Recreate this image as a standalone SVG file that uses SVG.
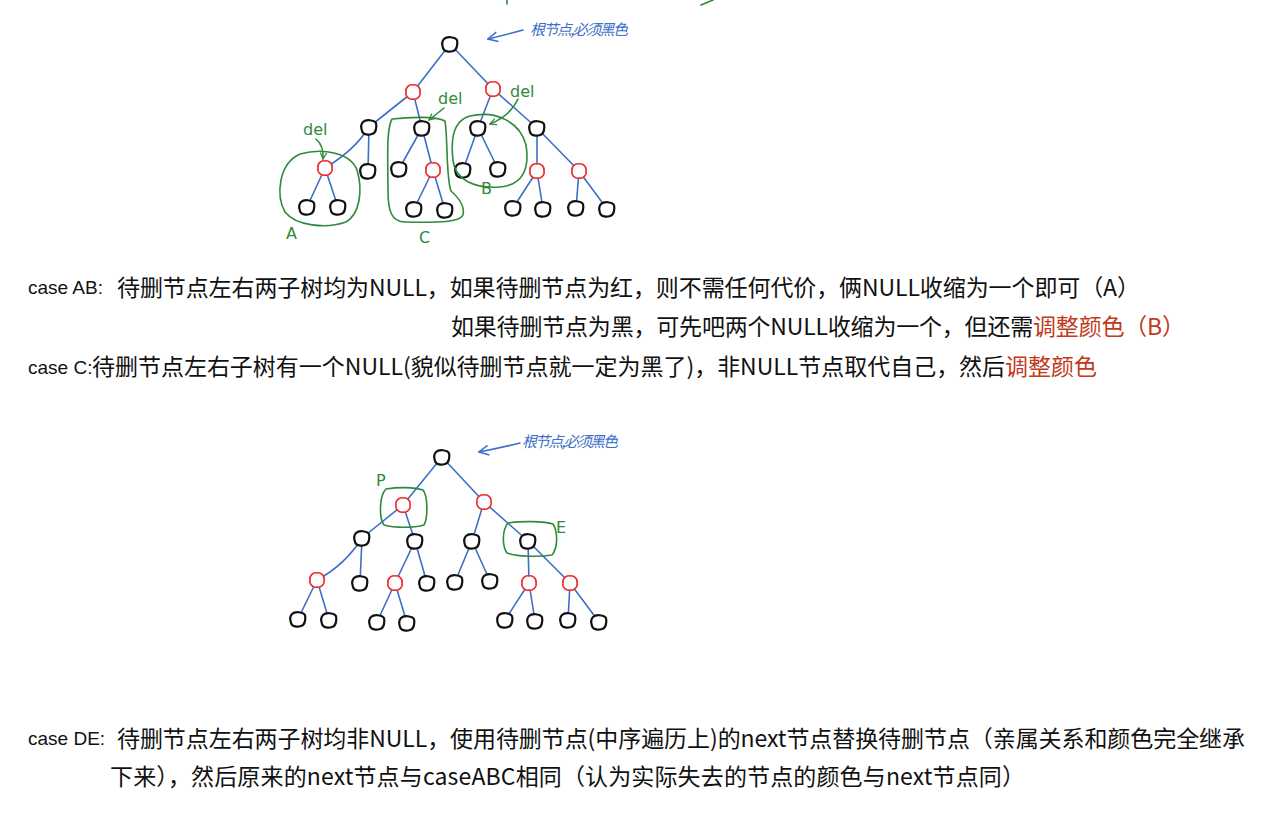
<svg xmlns="http://www.w3.org/2000/svg" width="1268" height="828" viewBox="0 0 1268 828">
<style>
.edge{stroke:#3d6fc7;stroke-width:1.6;fill:none;stroke-linecap:round}
.bn{fill:#fff;stroke:#111;stroke-width:2.2;stroke-linejoin:round}
.rn{fill:#fff;stroke:#ee2a2a;stroke-width:1.6}
.grn{fill:none;stroke:#2f8a3a;stroke-width:1.6;stroke-linecap:round;stroke-linejoin:round}
.gt{fill:#2f8a3a;font-family:"DejaVu Sans",sans-serif;font-size:16px}
.bt{fill:#3d6fc7;font-family:"Noto Sans CJK SC",sans-serif;font-size:15px;font-style:italic}
.blu{fill:none;stroke:#3d6fc7;stroke-width:1.6;stroke-linecap:round}
.lat{font-family:"Liberation Sans",sans-serif;font-size:19px;fill:#111}
.cjk{font-family:"Noto Sans CJK SC",sans-serif;font-size:23px;fill:#111}
.red{fill:#c03a1c}
</style>
<defs>
<path id="b" d="M-6,-5 C-3,-8 5,-7 7,-4 C8,0 7,6 3,7 C0,8 -6,8 -7,4 C-8,1 -8,-3 -6,-5 Z"/>
<path id="r" d="M0,-7 C4,-8 8,-4 7,0 C8,4 4,8 0,7 C-4,8 -8,4 -7,0 C-8,-4 -4,-8 0,-7 Z"/>
<marker id="ga" viewBox="0 0 10 10" refX="9" refY="5" markerWidth="8" markerHeight="8" orient="auto" markerUnits="userSpaceOnUse"><path d="M1,1 L9,5 L1,9" fill="none" stroke="#2f8a3a" stroke-width="1.5"/></marker>
<marker id="ba" viewBox="0 0 10 10" refX="9" refY="5" markerWidth="12" markerHeight="12" orient="auto" markerUnits="userSpaceOnUse"><path d="M1,1 L9,5 L1,9" fill="none" stroke="#3d6fc7" stroke-width="1.3"/></marker>
</defs>

<g id="connectors">
<!-- tree 1 -->
<path class="edge" d="M450,44 L413,92 M450,44 L493,89"/>
<path class="edge" d="M413,92 L369,127 M413,92 L422,128 M493,89 L478,128 M493,89 L537,128"/>
<path class="edge" d="M369,127 Q355,150 325,168 M369,127 L368,171 M422,128 L399,169 M422,128 L433,170 M478,128 L463,170 M478,128 L498,169 M537,128 L537,171 M537,128 L579,171"/>
<path class="edge" d="M325,168 L307,207 M325,168 L338,207 M433,170 L414,209 M433,170 L445,210 M537,171 L513,208 M537,171 L543,209 M579,171 L576,208 M579,171 L607,209"/>
<!-- tree 2 -->
<path class="edge" d="M442,457 L403,505 M442,457 L484,502"/>
<path class="edge" d="M403,505 L362,538 M403,505 L415,541 M484,502 L472,541 M484,502 L528,541"/>
<path class="edge" d="M362,538 Q345,565 317,580 M362,538 L360,583 M415,541 L395,583 M415,541 L427,583 M472,541 L455,582 M472,541 L490,581 M528,541 L529,583 M528,541 L570,583"/>
<path class="edge" d="M317,580 L298,619 M317,580 L329,620 M395,583 L377,622 M395,583 L407,623 M529,583 L505,620 M529,583 L535,621 M570,583 L568,620 M570,583 L599,622"/>
</g>

<g id="tree1-nodes">
<g id="t1-root"><use href="#b" class="bn" x="450" y="44"/></g>
<g id="t1-r1"><use href="#r" class="rn" x="413" y="92"/></g>
<g id="t1-r2"><use href="#r" class="rn" x="493" y="89"/></g>
<g id="t1-b1"><use href="#b" class="bn" x="369" y="127"/></g>
<g id="t1-b2"><use href="#b" class="bn" x="422" y="128"/></g>
<g id="t1-b3"><use href="#b" class="bn" x="478" y="128"/></g>
<g id="t1-b4"><use href="#b" class="bn" x="537" y="128"/></g>
<g id="t1-r3"><use href="#r" class="rn" x="325" y="168"/></g>
<g id="t1-b5"><use href="#b" class="bn" x="368" y="171"/></g>
<g id="t1-b6"><use href="#b" class="bn" x="399" y="169"/></g>
<g id="t1-r4"><use href="#r" class="rn" x="433" y="170"/></g>
<g id="t1-b7"><use href="#b" class="bn" x="463" y="170"/></g>
<g id="t1-b8"><use href="#b" class="bn" x="498" y="169"/></g>
<g id="t1-r5"><use href="#r" class="rn" x="537" y="171"/></g>
<g id="t1-r6"><use href="#r" class="rn" x="579" y="171"/></g>
<g id="t1-l1"><use href="#b" class="bn" x="307" y="207"/></g>
<g id="t1-l2"><use href="#b" class="bn" x="338" y="207"/></g>
<g id="t1-l3"><use href="#b" class="bn" x="414" y="209"/></g>
<g id="t1-l4"><use href="#b" class="bn" x="445" y="210"/></g>
<g id="t1-l5"><use href="#b" class="bn" x="513" y="208"/></g>
<g id="t1-l6"><use href="#b" class="bn" x="543" y="209"/></g>
<g id="t1-l7"><use href="#b" class="bn" x="576" y="208"/></g>
<g id="t1-l8"><use href="#b" class="bn" x="607" y="209"/></g>
</g>

<g id="tree2-nodes">
<g id="t2-root"><use href="#b" class="bn" x="442" y="457"/></g>
<g id="t2-r1"><use href="#r" class="rn" x="403" y="505"/></g>
<g id="t2-r2"><use href="#r" class="rn" x="484" y="502"/></g>
<g id="t2-b1"><use href="#b" class="bn" x="362" y="538"/></g>
<g id="t2-b2"><use href="#b" class="bn" x="415" y="541"/></g>
<g id="t2-b3"><use href="#b" class="bn" x="472" y="541"/></g>
<g id="t2-b4"><use href="#b" class="bn" x="528" y="541"/></g>
<g id="t2-r3"><use href="#r" class="rn" x="317" y="580"/></g>
<g id="t2-b5"><use href="#b" class="bn" x="360" y="583"/></g>
<g id="t2-r4"><use href="#r" class="rn" x="395" y="583"/></g>
<g id="t2-b6"><use href="#b" class="bn" x="427" y="583"/></g>
<g id="t2-b7"><use href="#b" class="bn" x="455" y="582"/></g>
<g id="t2-b8"><use href="#b" class="bn" x="490" y="581"/></g>
<g id="t2-r5"><use href="#r" class="rn" x="529" y="583"/></g>
<g id="t2-r6"><use href="#r" class="rn" x="570" y="583"/></g>
<g id="t2-l1"><use href="#b" class="bn" x="298" y="619"/></g>
<g id="t2-l2"><use href="#b" class="bn" x="329" y="620"/></g>
<g id="t2-l3"><use href="#b" class="bn" x="377" y="622"/></g>
<g id="t2-l4"><use href="#b" class="bn" x="407" y="623"/></g>
<g id="t2-l5"><use href="#b" class="bn" x="505" y="620"/></g>
<g id="t2-l6"><use href="#b" class="bn" x="535" y="621"/></g>
<g id="t2-l7"><use href="#b" class="bn" x="568" y="620"/></g>
<g id="t2-l8"><use href="#b" class="bn" x="599" y="622"/></g>
</g>

<g id="annotations">
<!-- top cut-off green marks -->
<path class="grn" d="M507,0 L507,4 M701,5 L713,0"/>
<!-- root notes -->
<path class="blu" d="M523,30 Q505,35 488,39" marker-end="url(#ba)"/>
<text class="bt" x="530" y="35" textLength="98">根节点,必须黑色</text>
<path class="blu" d="M520,443 Q500,448 479,452" marker-end="url(#ba)"/>
<text class="bt" x="522" y="447" textLength="96">根节点,必须黑色</text>
<!-- group A -->
<path class="grn" d="M300,154 C322,148 350,152 357,170 C363,190 360,214 346,222 C326,229 296,226 285,212 C276,196 278,164 300,154 Z"/>
<text class="gt" x="286" y="239">A</text>
<text class="gt" x="303" y="135" font-size="13">del</text>
<path class="grn" d="M316,139 Q324,146 323,159" marker-end="url(#ga)"/>
<!-- group C -->
<path class="grn" d="M392,119 C410,117 436,116 445,121 C448,140 446,178 451,191 C460,199 465,207 463,215 C460,222 440,223 405,222 C391,222 388,210 388,190 C388,160 386,130 392,119 Z"/>
<text class="gt" x="419" y="243">C</text>
<text class="gt" x="438" y="104" font-size="13">del</text>
<path class="grn" d="M444,108 L429,120" marker-end="url(#ga)"/>
<!-- group B -->
<path class="grn" d="M470,116 C496,110 520,122 526,145 C530,170 522,185 500,187 C475,189 455,180 453,160 C450,135 455,120 470,116 Z"/>
<text class="gt" x="481" y="194">B</text>
<text class="gt" x="510" y="97" font-size="13">del</text>
<path class="grn" d="M518,99 Q510,116 490,124" marker-end="url(#ga)"/>
<!-- P box -->
<path class="grn" d="M386,489 C398,487 414,487 423,490 C428,496 428,518 424,525 C414,528 394,528 384,525 C379,518 379,496 386,489 Z"/>
<text class="gt" x="376" y="486">P</text>
<!-- E box -->
<path class="grn" d="M508,523 C520,521 545,521 553,524 C558,532 558,548 552,555 C540,557 518,557 507,553 C502,546 502,530 508,523 Z"/>
<text class="gt" x="556" y="533">E</text>
</g>

<g id="texts">
<text class="lat" x="28" y="294">case AB:</text>
<text class="cjk" x="117" y="296" textLength="1023">待删节点左右两子树均为NULL，如果待删节点为红，则不需任何代价，俩NULL收缩为一个即可（A）</text>
<text class="cjk" x="451" y="335" textLength="734">如果待删节点为黑，可先吧两个NULL收缩为一个，但还需<tspan class="red">调整颜色（B）</tspan></text>
<text class="lat" x="28" y="374">case C:</text>
<text class="cjk" x="92" y="375" textLength="1005">待删节点左右子树有一个NULL(貌似待删节点就一定为黑了)，非NULL节点取代自己，然后<tspan class="red">调整颜色</tspan></text>
<text class="lat" x="28" y="745">case DE:</text>
<text class="cjk" x="117" y="747" textLength="1128">待删节点左右两子树均非NULL，使用待删节点(中序遍历上)的next节点替换待删节点（亲属关系和颜色完全继承</text>
<text class="cjk" x="110" y="785" textLength="915">下来），然后原来的next节点与caseABC相同（认为实际失去的节点的颜色与next节点同）</text>
</g>
</svg>
